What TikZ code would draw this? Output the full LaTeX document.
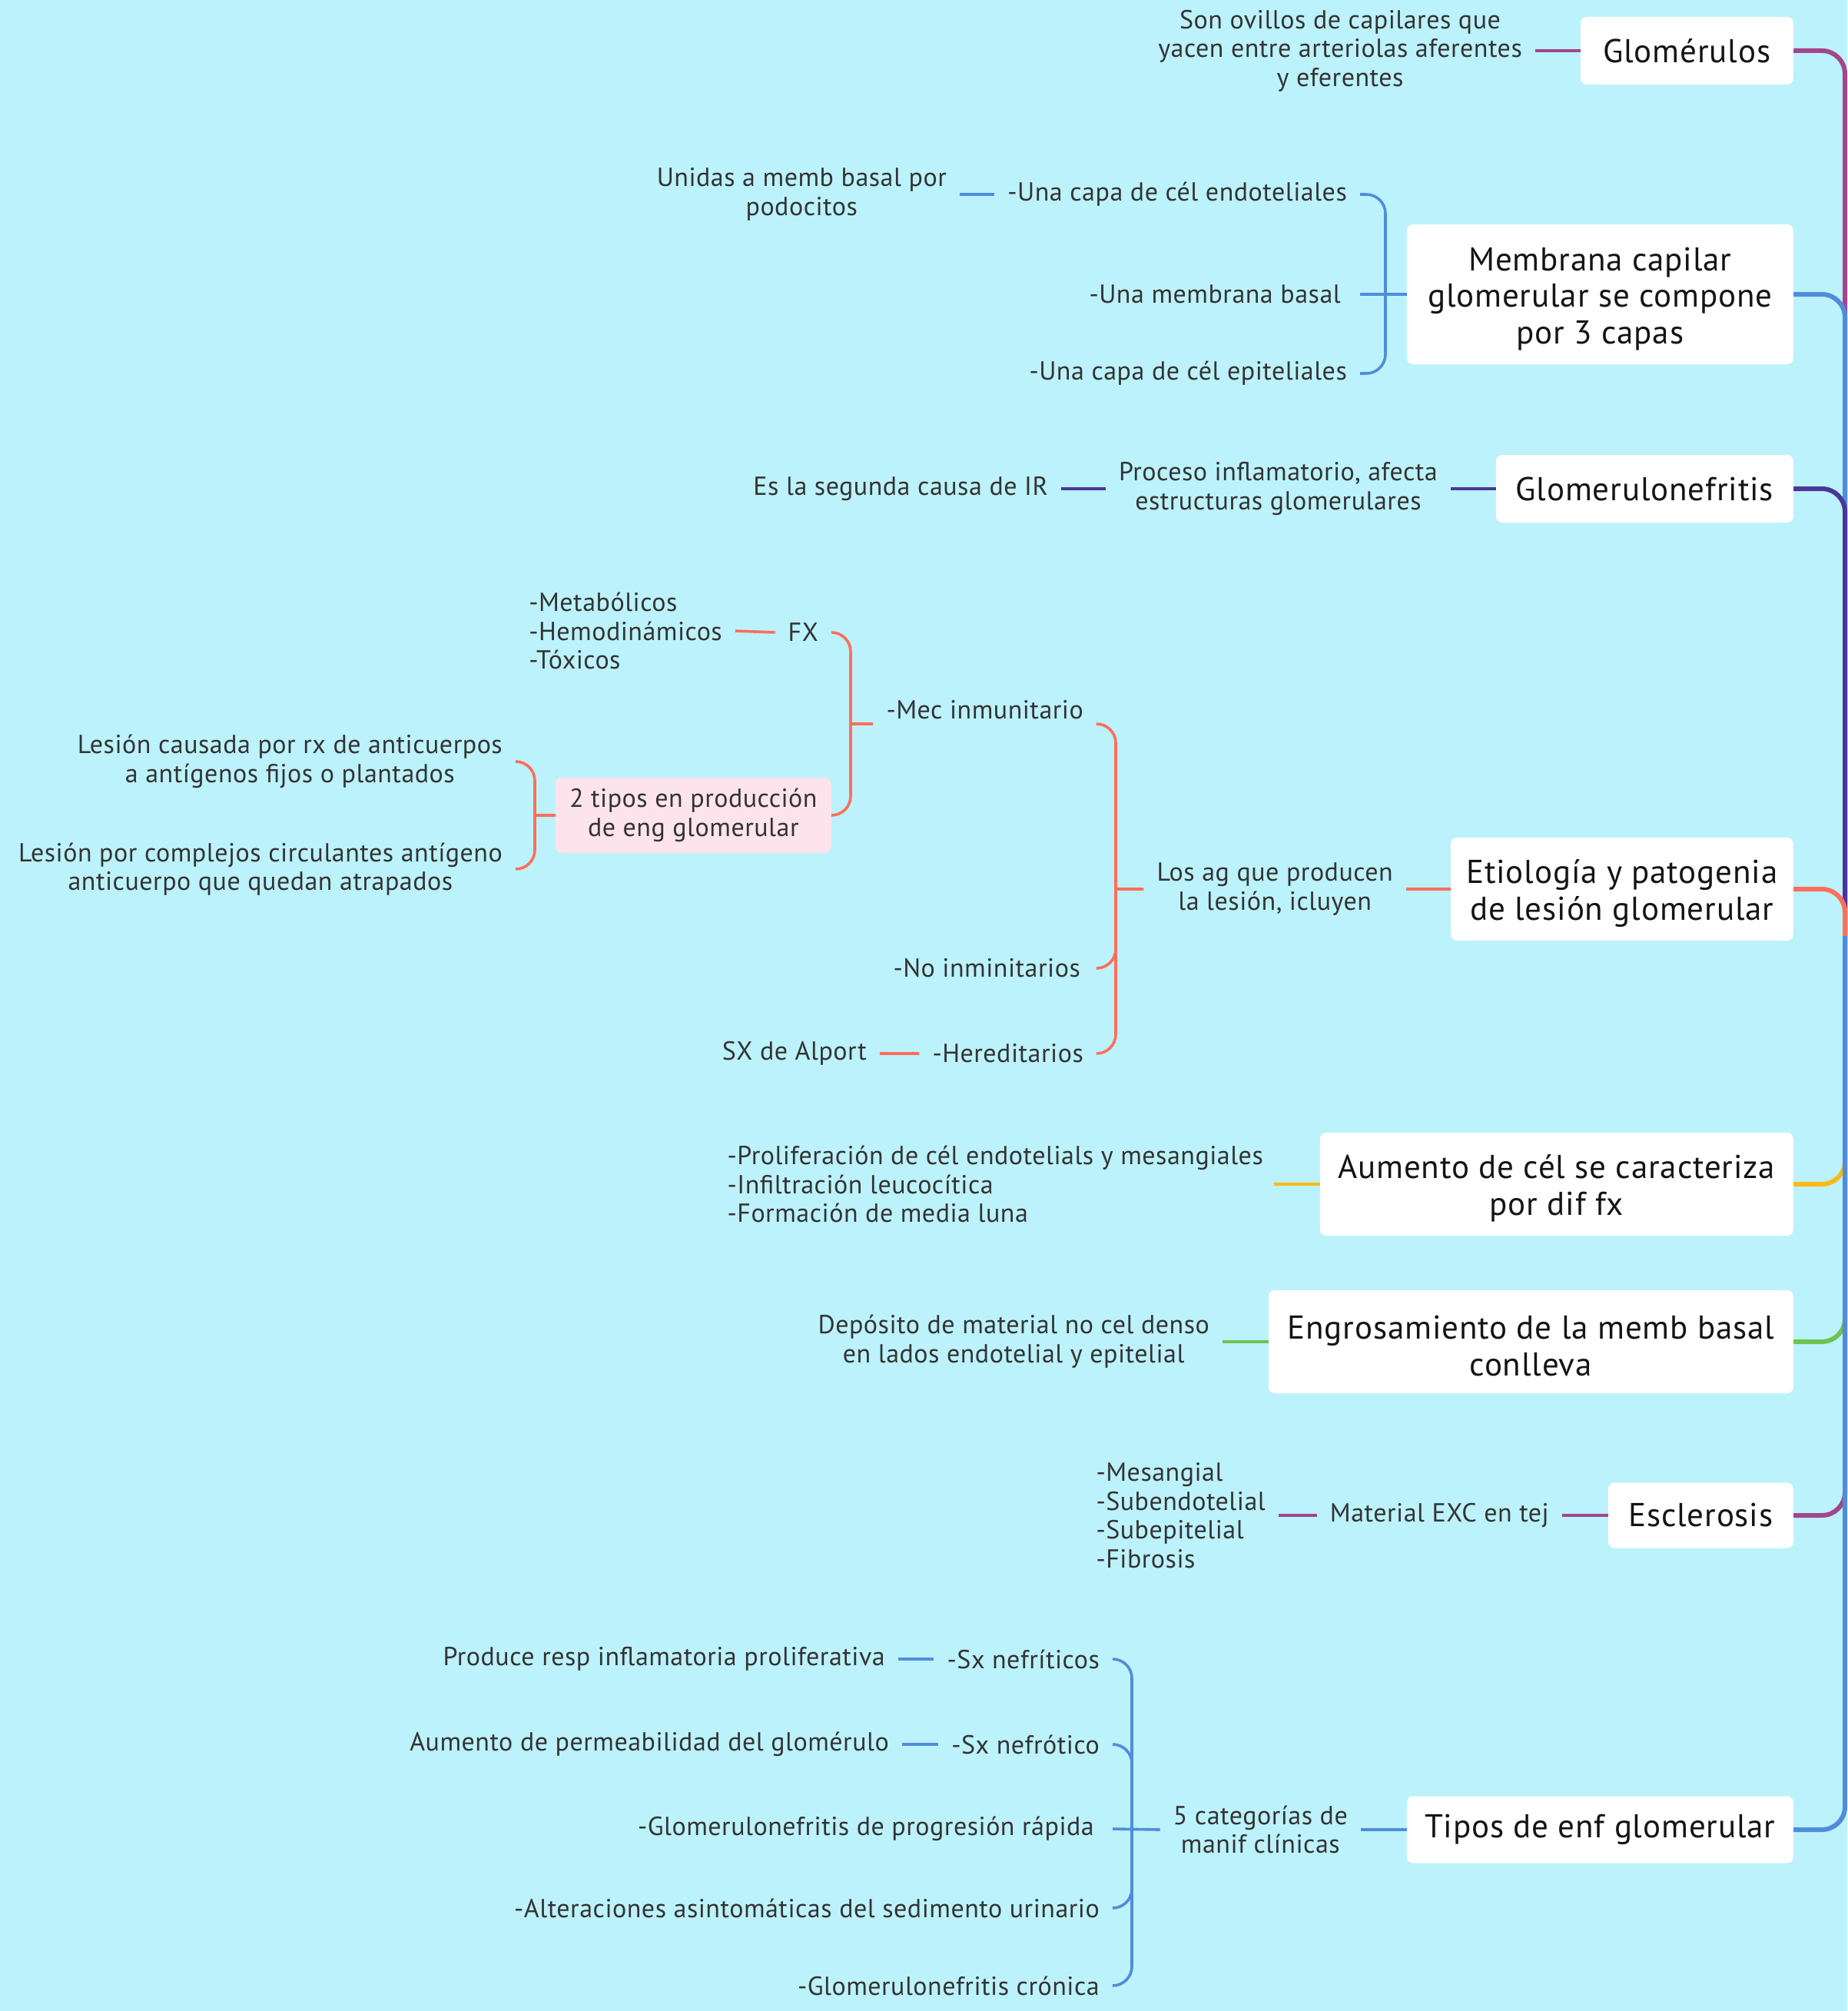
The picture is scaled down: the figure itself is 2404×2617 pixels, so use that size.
\documentclass[tikz,border=0pt]{standalone}
\usepackage{fontspec}
\usetikzlibrary{calc}
\newfontfamily\notefam[LetterSpace=1.5]{PT Sans}
\newfontfamily\topicfam[LetterSpace=2]{PT Sans}
\newcommand{\notefont}{\notefam\fontsize{34}{37.6}\selectfont}
\newcommand{\topicfont}{\topicfam\fontsize{43}{47.6}\selectfont}
% taller first line, lowers the text block inside multi-line topic boxes
\newcommand{\firstline}{\rule{0pt}{42pt}}

\definecolor{bgcyan}{RGB}{188,242,251}
\definecolor{txtgrey}{RGB}{51,51,51}
\definecolor{brpurple}{RGB}{162,70,140}
\definecolor{brblue}{RGB}{80,140,220}
\definecolor{brindigo}{RGB}{75,55,150}
\definecolor{brsalmon}{RGB}{255,110,90}
\definecolor{bryellow}{RGB}{253,185,20}
\definecolor{brgreen}{RGB}{110,195,80}
\definecolor{pinkfill}{RGB}{253,228,236}

\tikzset{
  note/.style={font=\notefont, text=txtgrey, inner xsep=17pt, inner ysep=0pt,
    align=center, anchor=east},
  notel/.style={note, align=left},
  topic/.style={fill=white, rounded corners=8pt, font=\topicfont, text=black!92,
    align=center, anchor=east, inner sep=0pt},
  pinkbox/.style={fill=pinkfill, rounded corners=8pt, font=\notefont, text=txtgrey,
    align=center, anchor=east, inner sep=0pt},
  trunk/.style={line width=6pt, rounded corners=30pt},
  link/.style={line width=3.6pt},
  brace/.style={line width=3.6pt, rounded corners=25pt},
}

\begin{document}
\begin{tikzpicture}[x=1pt,y=-1pt]
\fill[bgcyan] (0,0) rectangle (2404,2617);
\useasboundingbox (0,0) rectangle (2404,2617);

% main topics
\node[topic, minimum width=277pt, minimum height=88pt]  (glom)  at (2334,66)   {Glomérulos};
\node[topic, minimum width=503pt, minimum height=182pt] (memb)  at (2334,383)  {\firstline Membrana capilar\\glomerular se compone\\por 3 capas};
\node[topic, minimum width=387pt, minimum height=88pt]  (gnef)  at (2334,636)  {Glomerulonefritis};
\node[topic, minimum width=446pt, minimum height=134pt] (etio)  at (2334,1157) {\firstline Etiología y patogenia\\de lesión glomerular};
\node[topic, minimum width=616pt, minimum height=134pt] (aum)   at (2334,1541) {\firstline Aumento de cél se caracteriza\\por dif fx};
\node[topic, minimum width=683pt, minimum height=134pt] (engr)  at (2334,1746) {\firstline Engrosamiento de la memb basal\\conlleva};
\node[topic, minimum width=241pt, minimum height=85pt]  (escl)  at (2334,1972) {Esclerosis};
\node[topic, minimum width=503pt, minimum height=87pt]  (tipos) at (2334,2381) {Tipos de enf glomerular};

\coordinate (root) at (2401,1218);

% trunk: later branches lie on top
\draw[trunk, brpurple] (glom.east)  -| (root);
\draw[trunk, brblue]   (memb.east)  -| (root);
\draw[trunk, brindigo] (gnef.east)  -| (root);
\draw[trunk, brsalmon] (etio.east)  -| (root);
\draw[trunk, bryellow] (aum.east)   -| (root);
\draw[trunk, brgreen]  (engr.east)  -| (root);
\draw[trunk, brpurple] (escl.east)  -| (root);
\draw[trunk, brblue]   (tipos.east) -| (root);

% Glomérulos
\node[note] (ovill) at (1998,66) {Son ovillos de capilares que\\yacen entre arteriolas aferentes\\y eferentes};
\draw[link, brpurple] (glom.west) -- (ovill.east);

% Membrana capilar
\node[note] (capa1) at (1770,253) {-Una capa de cél endoteliales};
\node[note, inner xsep=25pt] (capa2) at (1770,383) {-Una membrana basal};
\node[note] (capa3) at (1770,486) {-Una capa de cél epiteliales};
\node[note] (unidas) at (1249,253) {Unidas a memb basal por\\podocitos};
\coordinate (mbr) at (1803,383);
\draw[brace, brblue] (capa1.east) -| (mbr) |- (capa3.east);
\draw[link, brblue] (memb.west) -- (capa2.east);
\draw[link, brblue] (capa1.west) -- (unidas.east);

% Glomerulonefritis
\node[note] (proc) at (1888,636) {Proceso inflamatorio, afecta\\estructuras glomerulares};
\node[note] (segunda) at (1381,636) {Es la segunda causa de IR};
\draw[link, brindigo] (gnef.west) -- (proc.east);
\draw[link, brindigo] (proc.west) -- (segunda.east);

% Etiología y patogenia
\node[note] (losag) at (1830,1157) {Los ag que producen\\la lesión, icluyen};
\node[note] (mec) at (1427,942) {-Mec inmunitario\\\mbox{}};
\node[note, inner xsep=21pt] (noinm) at (1427,1260) {-No inminitarios};
\node[note] (hered) at (1427,1371) {-Hereditarios};
\node[note] (alport) at (1145,1371) {SX de Alport};
\coordinate (ebr) at (1452,1157);
\draw[link, brsalmon] (etio.west) -- (losag.east);
\draw[brace, brsalmon] (mec.east) -| (ebr) |- (hered.east);
\draw[brace, brsalmon] (noinm.east) -| (ebr);
\draw[link, brsalmon] (losag.west) -- (ebr);
\draw[link, brsalmon] (hered.west) -- (alport.east);

\node[note] (fx) at (1082,823) {FX};
\node[pinkbox, minimum width=359pt, minimum height=98pt] (dostipos) at (1082,1061) {2 tipos en producción\\de eng glomerular};
\node[notel] (fxlist) at (957,821) {-Metabólicos\\-Hemodinámicos\\-Tóxicos};
\coordinate (mbr2) at (1107,942);
\draw[brace, brsalmon] (fx.east) -| (mbr2) |- (dostipos.east);
\draw[link, brsalmon] (mec.west) -- (mbr2);
\draw[link, brsalmon] (fx.west) -- (fxlist.east);

\node[note] (les1) at (671,991) {Lesión causada por rx de anticuerpos\\a antígenos fijos o plantados};
\node[note] (les2) at (671,1131) {Lesión por complejos circulantes antígeno\\anticuerpo que quedan atrapados};
\coordinate (pbr) at (696,1061);
\draw[brace, brsalmon] (les1.east) -| (pbr) |- (les2.east);
\draw[link, brsalmon] (dostipos.west) -- (pbr);

% Aumento de células
\node[notel, inner xsep=14pt] (aumlist) at (1658,1541) {-Proliferación de cél endotelials y mesangiales\\-Infiltración leucocítica\\-Formación de media luna};
\draw[link, bryellow] (aum.west) -- (aumlist.east);

% Engrosamiento
\node[note] (depo) at (1591,1746) {Depósito de material no cel denso\\en lados endotelial y epitelial};
\draw[link, brgreen] (engr.west) -- (depo.east);

% Esclerosis
\node[note] (mat) at (2033,1972) {Material EXC en tej};
\node[notel] (esclist) at (1664,1972) {-Mesangial\\-Subendotelial\\-Subepitelial\\-Fibrosis};
\draw[link, brpurple] (escl.west) -- (mat.east);
\draw[link, brpurple] (mat.west) -- (esclist.east);

% Tipos de enfermedad glomerular
\node[note] (cat) at (1771,2381) {5 categorías de\\manif clínicas};
\node[note] (t1) at (1448,2159) {-Sx nefríticos};
\node[note] (t2) at (1448,2270) {-Sx nefrótico};
\node[note, inner xsep=24pt] (t3) at (1448,2380) {-Glomerulonefritis de progresión rápida};
\node[note] (t4) at (1448,2483) {-Alteraciones asintomáticas del sedimento urinario};
\node[note] (t5) at (1448,2584) {-Glomerulonefritis crónica};
\node[note] (prod) at (1169,2159) {Produce resp inflamatoria proliferativa};
\node[note] (perm) at (1174,2270) {Aumento de permeabilidad del glomérulo};
\coordinate (tbr) at (1473,2381);
\draw[link, brblue] (tipos.west) -- (cat.east);
\draw[brace, brblue] (t1.east) -| (tbr) |- (t5.east);
\draw[brace, brblue] (t2.east) -| (tbr);
\draw[brace, brblue] (t4.east) -| (tbr);
\draw[link, brblue] (t3.east) -- (cat.west);
\draw[link, brblue] (t1.west) -- (prod.east);
\draw[link, brblue] (t2.west) -- (perm.east);
\end{tikzpicture}
\end{document}
